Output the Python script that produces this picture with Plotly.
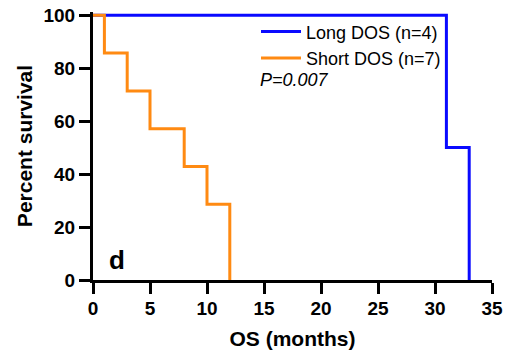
import plotly.graph_objects as go

long_t = [0, 31, 33]
long_s = [100, 50, 0]
short_t = [0, 1, 3, 5, 8, 10, 12]
short_s = [100, 85.7, 71.4, 57.1, 42.9, 28.6, 0]
x_ticks = [0, 5, 10, 15, 20, 25, 30, 35]
y_ticks = [0, 20, 40, 60, 80, 100]

FONT = "Liberation Sans, Arial, sans-serif"
PX_PER_UNIT = 2.65

fig = go.Figure()
fig.add_trace(go.Scatter(x=long_t, y=long_s, mode="lines", line_shape="hv",
                         name="Long DOS (n=4)", line=dict(color="#0A0AFF", width=3),
                         cliponaxis=False))
fig.add_trace(go.Scatter(x=short_t, y=short_s, mode="lines", line_shape="hv",
                         name="Short DOS (n=7)", line=dict(color="#FF8A12", width=3),
                         cliponaxis=False))

axis_common = dict(showline=True, linewidth=3, linecolor="black", ticks="outside",
                   ticklen=11, tickwidth=3, tickcolor="black", showgrid=False,
                   zeroline=False, mirror=False, automargin=False,
                   tickfont=dict(family=FONT, size=19, color="black", weight="bold"))

fig.update_xaxes(range=[0, 35], tickvals=x_ticks, ticklabelstandoff=-2,
                 title=dict(text="OS (months)", font=dict(family=FONT, size=21, color="black", weight="bold"), standoff=14),
                 **axis_common)
# y axis extends slightly above 100 so the 100% line is not clipped
fig.update_yaxes(range=[0, 101.2], tickvals=y_ticks, ticklabelstandoff=0,
                 title=dict(text="Percent survival", font=dict(family=FONT, size=21, color="black", weight="bold"), standoff=6),
                 **axis_common)

fig.add_annotation(x=(116.5 - 93) / 399, y=(280 - 260) / PX_PER_UNIT, xref="paper", yref="y", text="d",
                   showarrow=False, xanchor="center", yanchor="middle",
                   font=dict(family=FONT, size=26, color="black", weight="bold"))
fig.add_annotation(x=(258 - 93) / 399, y=(280 - 80) / PX_PER_UNIT, xref="paper", yref="y",
                   text="<i>P=0.007</i>", showarrow=False, xanchor="left", yanchor="middle",
                   font=dict(family=FONT, size=18, color="black"))

fig.update_layout(
    width=508, height=357,
    margin=dict(l=93, r=16, t=12, b=77),
    paper_bgcolor="white", plot_bgcolor="white",
    showlegend=True,
    legend=dict(x=(256 - 93) / 399, y=0.995, xanchor="left", yanchor="top", bgcolor="rgba(0,0,0,0)",
                font=dict(family=FONT, size=18, color="black"), tracegroupgap=0, itemwidth=40),
)

fig.write_html("out.html")
